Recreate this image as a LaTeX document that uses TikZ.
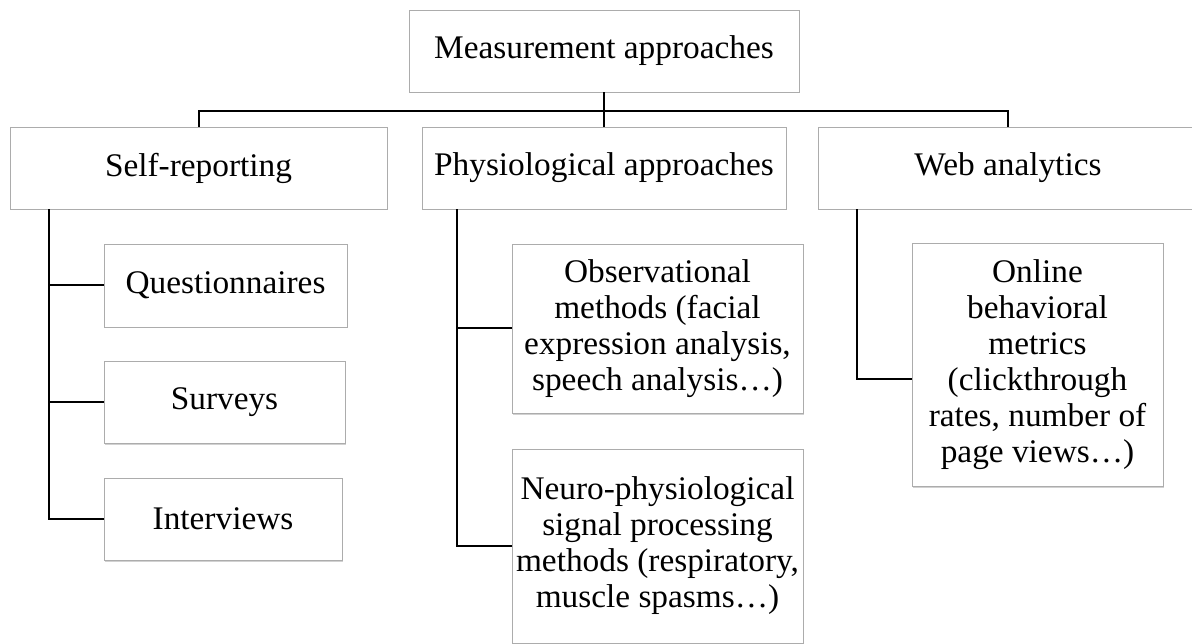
\documentclass[tikz,border=0pt]{standalone}
\usepackage{fontspec}
\setmainfont{Liberation Serif}[FakeStretch=1.01]
\usetikzlibrary{shadows}

\begin{document}
\begin{tikzpicture}[x=1pt,y=-1pt,
  box/.style={draw=gray!65, line width=0.8pt, fill=white, align=center,
              font=\fontsize{33}{36}\selectfont, inner sep=0pt,
              drop shadow={shadow xshift=1.2pt, shadow yshift=-1.5pt,
                           fill=gray!60, opacity=0.6}},
  ln/.style={line width=2pt}]
\useasboundingbox (0,0) rectangle (1192,644);
\node[box, minimum width=390, minimum height=82] (top) at (604,51) {Measurement approaches};
\node[box, minimum width=377, minimum height=82] (self) at (198.5,168) {Self-reporting};
\node[box, minimum width=364, minimum height=82] (phys) at (604,168) {Physiological approaches};
\node[box, minimum width=380, minimum height=82] (web) at (1008,168) {Web analytics};
\node[box, minimum width=243, minimum height=83] (quest) at (225.5,285.5) {Questionnaires};
\node[box, minimum width=241, minimum height=82] (surv) at (224.5,402) {Surveys};
\node[box, minimum width=238, minimum height=82] (intv) at (223,519) {Interviews};
\node[box, minimum width=291, minimum height=169] (obs) at (657.5,328.5)
  {Observational\\methods (facial\\expression analysis,\\speech analysis…)};
\node[box, minimum width=291, minimum height=194] (neuro) at (657.5,546)
  {Neuro-physiological\\signal processing\\methods (respiratory,\\muscle spasms…)};
\node[box, minimum width=251, minimum height=243] (online) at (1037.5,364.5)
  {Online\\behavioral\\metrics\\(clickthrough\\rates, number of\\page views…)};
% tree lines
\coordinate (bar) at (604,111);
\coordinate (selfleg) at ([xshift=39]self.south west);
\coordinate (physleg) at ([xshift=35]phys.south west);
\coordinate (webleg) at ([xshift=39]web.south west);
\draw[ln] (top.south) -- (phys.north);
\draw[ln] (self.north) |- (bar) -| (web.north);
\draw[ln] (selfleg) |- (intv.west);
\draw[ln] (quest.west) -- (quest.west -| selfleg);
\draw[ln] (surv.west) -- (surv.west -| selfleg);
\draw[ln] (physleg) |- (neuro.west);
\draw[ln] (obs.west) -- (obs.west -| physleg);
\draw[ln] (webleg) |- ([yshift=-15]online.west);
\end{tikzpicture}
\end{document}
